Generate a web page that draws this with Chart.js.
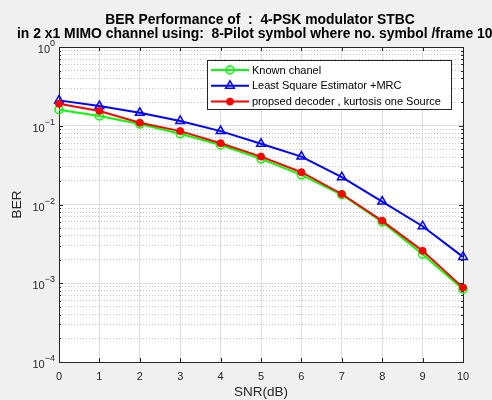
<!DOCTYPE html>
<html>
<head>
<meta charset="utf-8">
<script src="https://cdn.jsdelivr.net/npm/chart.js@4.4.1/dist/chart.umd.min.js"></script>
<style>
  html, body { margin: 0; padding: 0; background: #f0f0f0; }
  canvas { display: block; }
</style>
</head>
<body>
<canvas id="graficoBER" width="492" height="400"></canvas>
<script>
// Datos de las curvas BER (SNR en dB)
const snr = [0, 1, 2, 3, 4, 5, 6, 7, 8, 9, 10];
const berConocido = [0.160, 0.133, 0.105, 0.079, 0.057, 0.038, 0.0238, 0.0133, 0.0060, 0.00234, 0.00084];
const berLS = [0.210, 0.178, 0.146, 0.115, 0.0855, 0.059, 0.0406, 0.0222, 0.0109, 0.0053, 0.00216];
const berPropuesto = [0.190, 0.154, 0.109, 0.0855, 0.060, 0.0406, 0.0257, 0.0136, 0.0062, 0.00258, 0.00088];

const nombresSeries = ['Known chanel', 'Least Square Estimator +MRC', 'propsed decoder , kurtosis one Source'];
const decadas = [1, 1e-1, 1e-2, 1e-3, 1e-4];
const exponentes = ['0', '\u22121', '\u22122', '\u22123', '\u22124'];
const titulo = ['BER Performance of  :  4-PSK modulator STBC',
                'in 2 x1 MIMO channel using:  8-Pilot symbol where no. symbol /frame 10'];

// Rejilla menor: 2..9 x 10^k
const menores = [];
decadas.slice(1).forEach(d => { for (let m = 2; m <= 9; m++) menores.push(m * d); });

const FUENTE = '"Liberation Sans", Arial, Helvetica, sans-serif';
const GRIS_EJE = '#262626';

// Fondo, marco con marcas hacia dentro, etiquetas 10^k, título y leyenda
const marcoMatlab = {
  id: 'marcoMatlab',
  beforeDraw(chart) {
    const { ctx, chartArea: a } = chart;
    ctx.save();
    ctx.fillStyle = '#f0f0f0';
    ctx.fillRect(0, 0, chart.width, chart.height);
    ctx.fillStyle = '#ffffff';
    ctx.fillRect(a.left, a.top, a.right - a.left, a.bottom - a.top);
    ctx.restore();
  },
  beforeDatasetsDraw(chart) {
    const { ctx, chartArea: a, scales } = chart;
    ctx.save();
    ctx.strokeStyle = GRIS_EJE;
    ctx.lineWidth = 1;
    ctx.beginPath();
    snr.forEach(v => {
      const x = Math.round(scales.x.getPixelForValue(v)) + 0.5;
      ctx.moveTo(x, a.bottom); ctx.lineTo(x, a.bottom - 4);
      ctx.moveTo(x, a.top); ctx.lineTo(x, a.top + 4);
    });
    decadas.forEach(v => {
      const y = Math.round(scales.y.getPixelForValue(v)) + 0.5;
      ctx.moveTo(a.left, y); ctx.lineTo(a.left + 4, y);
      ctx.moveTo(a.right, y); ctx.lineTo(a.right - 4, y);
    });
    menores.forEach(v => {
      const y = Math.round(scales.y.getPixelForValue(v)) + 0.5;
      ctx.moveTo(a.left, y); ctx.lineTo(a.left + 2, y);
      ctx.moveTo(a.right, y); ctx.lineTo(a.right - 2, y);
    });
    ctx.stroke();
    ctx.strokeRect(Math.round(a.left) + 0.5, Math.round(a.top) + 0.5,
                   Math.round(a.right - a.left), Math.round(a.bottom - a.top));
    ctx.restore();
  },
  afterDraw(chart) {
    const { ctx, chartArea: a, scales } = chart;
    ctx.save();
    ctx.fillStyle = GRIS_EJE;

    // Etiquetas del eje Y con exponente
    decadas.forEach((v, i) => {
      const y = scales.y.getPixelForValue(v);
      ctx.font = '9px ' + FUENTE;
      const wExp = ctx.measureText(exponentes[i]).width;
      const xFin = a.left - 4;
      ctx.textAlign = 'left';
      ctx.textBaseline = 'alphabetic';
      ctx.fillText(exponentes[i], xFin - wExp, y - 1);
      ctx.font = '11px ' + FUENTE;
      ctx.textAlign = 'right';
      ctx.fillText('10', xFin - wExp, y + 6);
    });

    // Título en dos líneas
    ctx.font = 'bold 13.9px ' + FUENTE;
    ctx.fillStyle = '#000000';
    ctx.textBaseline = 'alphabetic';
    ctx.textAlign = 'center';
    ctx.fillText(titulo[0], 260, 23.5);
    ctx.textAlign = 'left';
    ctx.fillText(titulo[1], 17, 37.5);

    // Leyenda dentro del área del gráfico
    const caja = { x: 207.5, y: 60.5, w: 244, h: 49 };
    ctx.fillStyle = '#ffffff';
    ctx.fillRect(caja.x, caja.y, caja.w, caja.h);
    ctx.strokeStyle = GRIS_EJE;
    ctx.lineWidth = 1;
    ctx.strokeRect(caja.x, caja.y, caja.w, caja.h);
    chart.data.datasets.forEach((ds, i) => {
      const yFila = 70 + i * 15.8;
      ctx.strokeStyle = ds.borderColor;
      ctx.lineWidth = ds.borderWidth;
      ctx.beginPath();
      ctx.moveTo(211, yFila); ctx.lineTo(249, yFila);
      ctx.stroke();
      ctx.fillStyle = ds.pointBackgroundColor;
      ctx.lineWidth = ds.pointBorderWidth;
      Chart.helpers.drawPoint(ctx, {
        pointStyle: ds.pointStyle, radius: ds.pointRadius,
        rotation: 0, borderWidth: ds.pointBorderWidth
      }, 230, yFila);
      ctx.fillStyle = '#000000';
      ctx.font = '11px ' + FUENTE;
      ctx.textAlign = 'left';
      ctx.textBaseline = 'middle';
      ctx.fillText(ds.label, 252, yFila + 0.5);
    });
    ctx.restore();
  }
};

function serie(valores) {
  return valores.map((v, i) => ({ x: snr[i], y: v }));
}

const grafico = new Chart(document.getElementById('graficoBER'), {
  type: 'line',
  data: {
    datasets: [
      {
        label: nombresSeries[0], data: serie(berConocido),
        borderColor: '#00ff00', borderWidth: 2,
        pointStyle: 'circle', pointRadius: 4, pointBorderWidth: 1.5,
        pointBorderColor: '#00ff00', pointBackgroundColor: 'rgba(0,0,0,0)',
        clip: false, order: 3
      },
      {
        label: nombresSeries[1], data: serie(berLS),
        borderColor: '#0000ff', borderWidth: 2,
        pointStyle: 'triangle', pointRadius: 5, pointBorderWidth: 1.5,
        pointBorderColor: '#0000ff', pointBackgroundColor: 'rgba(0,0,0,0)',
        clip: false, order: 2
      },
      {
        label: nombresSeries[2], data: serie(berPropuesto),
        borderColor: '#ff0000', borderWidth: 2,
        pointStyle: 'circle', pointRadius: 3.5, pointBorderWidth: 1,
        pointBorderColor: '#ff0000', pointBackgroundColor: '#ff0000',
        clip: false, order: 1
      }
    ]
  },
  options: {
    responsive: false,
    animation: false,
    layout: { padding: { top: 47, right: 29, left: 0, bottom: 0 } },
    plugins: {
      legend: { display: false },
      title: { display: false },
      tooltip: { enabled: false }
    },
    scales: {
      x: {
        type: 'linear', min: 0, max: 10,
        ticks: { stepSize: 1, color: GRIS_EJE, padding: 8, font: { family: FUENTE, size: 11 } },
        grid: { color: '#dedede', drawTicks: false },
        border: { display: false },
        title: { display: true, text: 'SNR(dB)', color: GRIS_EJE, padding: { top: 0, bottom: 0 },
                 font: { family: FUENTE, size: 13.5 } },
        afterFit(s) { s.height = 38; }
      },
      y: {
        type: 'logarithmic', min: 1e-4, max: 1,
        afterBuildTicks(s) { s.ticks = decadas.map(v => ({ value: v, major: true })); },
        ticks: { display: false },
        grid: { color: '#dedede', drawTicks: false },
        border: { display: false },
        title: { display: true, text: 'BER', color: GRIS_EJE, padding: { top: 9, bottom: 0 },
                 font: { family: FUENTE, size: 13.5 } },
        afterFit(s) { s.width = 59; }
      },
      yMenor: {
        type: 'logarithmic', position: 'right', min: 1e-4, max: 1,
        afterBuildTicks(s) { s.ticks = menores.map(v => ({ value: v })); },
        ticks: { display: false },
        grid: { color: '#c4c4c4', drawTicks: false },
        border: { display: false, dash: [1, 2] },
        afterFit(s) { s.width = 0; }
      }
    }
  },
  plugins: [marcoMatlab]
});
</script>
</body>
</html>
